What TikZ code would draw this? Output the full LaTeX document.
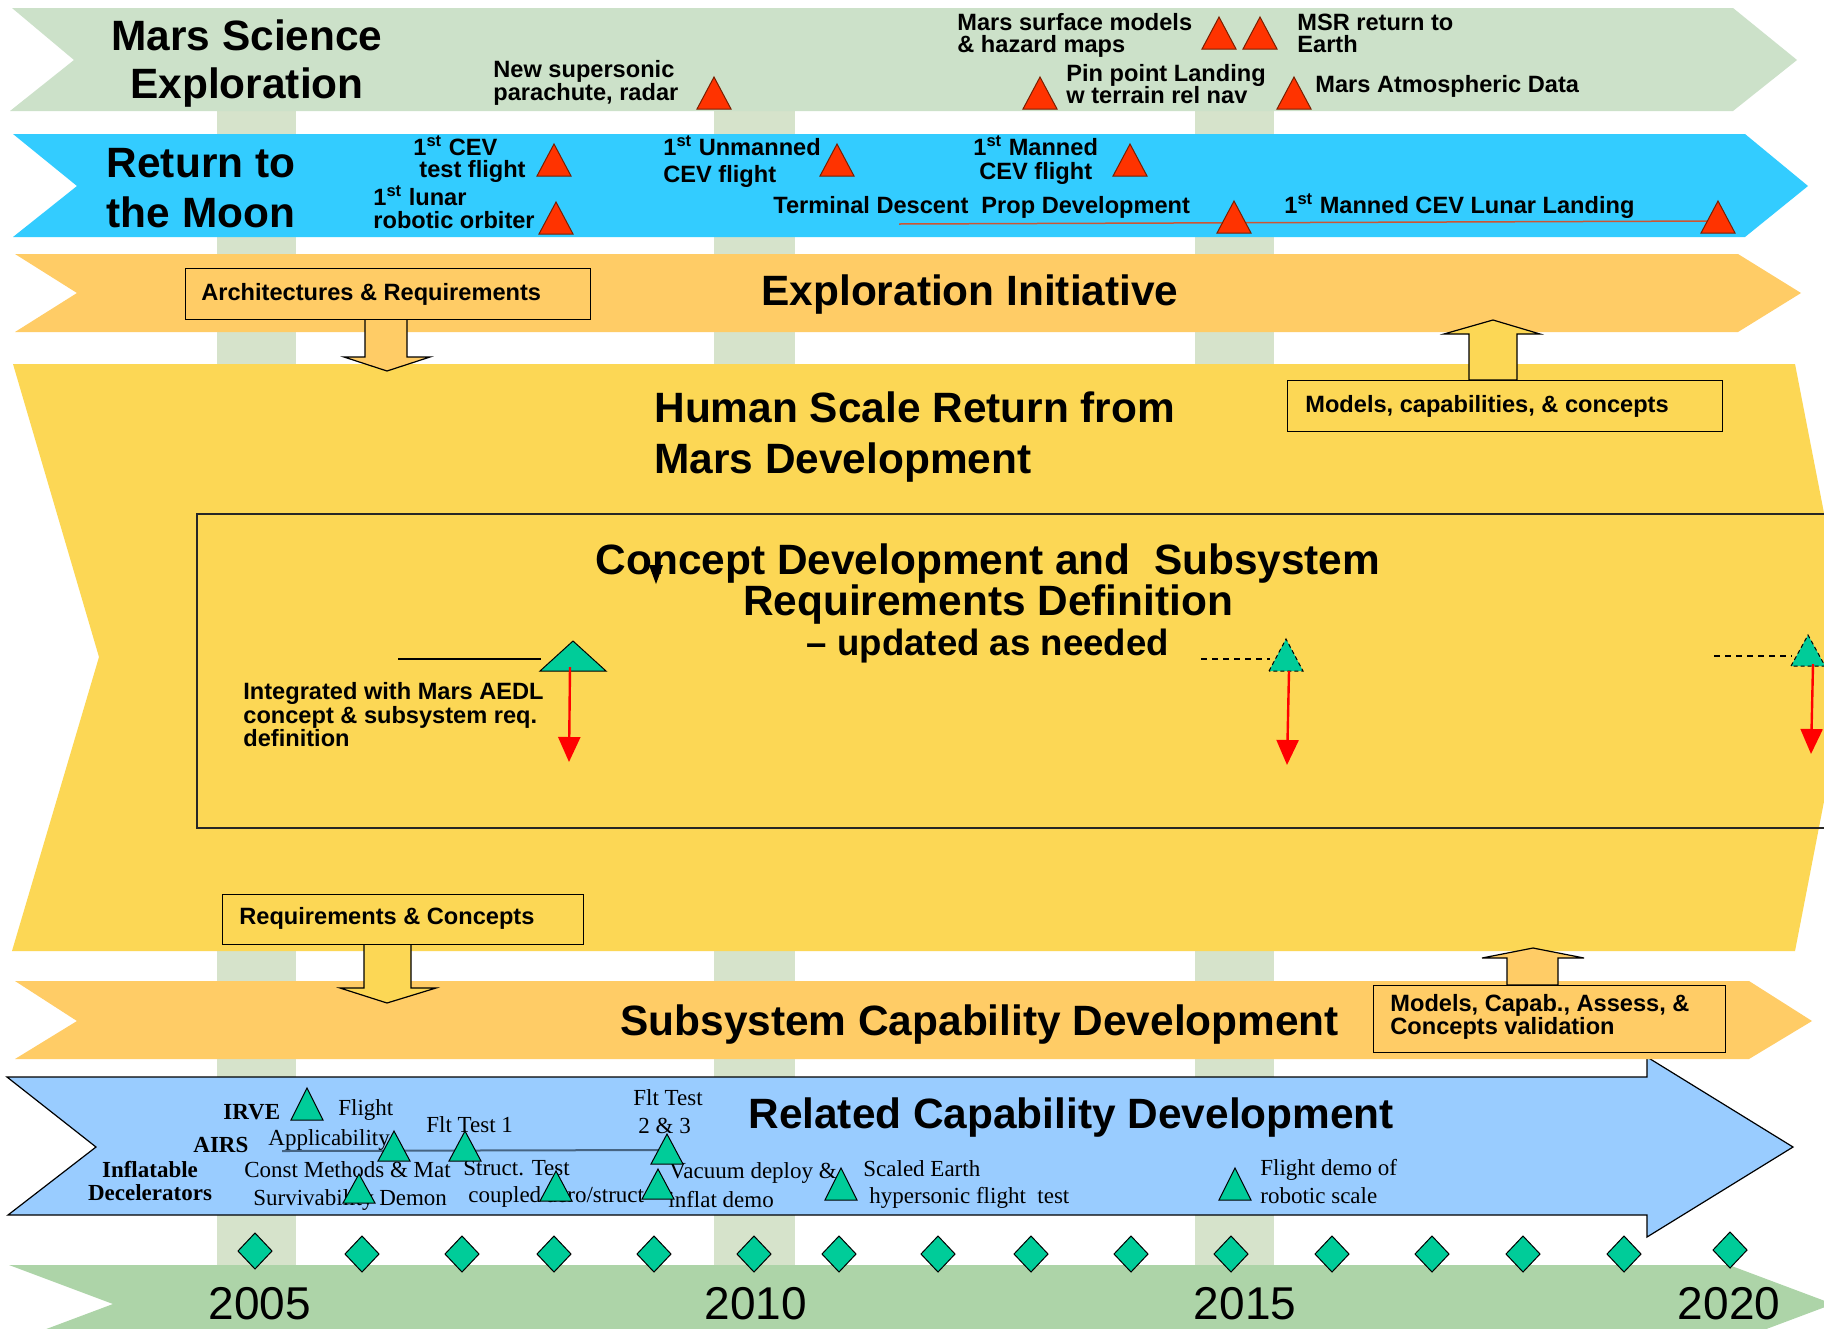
\documentclass[tikz,border=0pt]{standalone}
\usepackage{fontspec}
\setmainfont{Liberation Sans}
\newfontfamily\arialf{Liberation Sans}
\newfontfamily\tmsf{Liberation Serif}
\usetikzlibrary{arrows.meta}
\definecolor{cmars}{RGB}{204,225,201}
\definecolor{ccol}{RGB}{214,227,203}
\definecolor{cmoon}{RGB}{51,204,255}
\definecolor{corange}{RGB}{255,204,102}
\definecolor{cyellow}{RGB}{252,215,85}
\definecolor{cblue}{RGB}{153,204,255}
\definecolor{ctime}{RGB}{173,212,168}
\definecolor{cred}{RGB}{255,51,0}
\definecolor{credline}{RGB}{120,30,0}
\definecolor{cgreen}{RGB}{0,204,153}
\definecolor{cslate}{RGB}{70,100,130}
\definecolor{ctdline}{RGB}{205,85,50}
\tikzset{
  lab/.style={font=\arialf\bfseries\fontsize{11.8pt}{12pt}\selectfont, inner sep=0pt, anchor=base west},
  big/.style={font=\arialf\bfseries\fontsize{21.2pt}{24pt}\selectfont, inner sep=0pt, anchor=base},
  mid/.style={font=\arialf\bfseries\fontsize{18.3pt}{20pt}\selectfont, inner sep=0pt, anchor=base},
  srf/.style={font=\tmsf\fontsize{11.5pt}{12pt}\selectfont, inner sep=0pt, anchor=base west},
  srfb/.style={font=\tmsf\bfseries\fontsize{11.5pt}{12pt}\selectfont, inner sep=0pt, anchor=base west},
  yr/.style={font=\arialf\fontsize{23pt}{24pt}\selectfont, inner sep=0pt, anchor=base},
  redtri/.style={fill=cred, draw=credline, line width=0.5pt},
  greentri/.style={fill=cgreen, draw=black, line width=0.5pt},
  dmdst/.style={fill=cgreen, draw=black, line width=0.5pt},
  blk/.style={draw=black, line width=0.6pt},
  boxst/.style={draw=black, line width=0.7pt},
  redarrow/.style={draw=red, line width=1.2pt, -{Triangle[length=12.5pt,width=11pt]}},
}
\newcommand\rtri[2]{\filldraw[redtri] ({#1-17},#2) -- (#1,{#2-32}) -- ({#1+17},#2) -- cycle;}
\newcommand\gtri[5][]{\filldraw[greentri,#1] ({#2-#4},#3) -- (#2,{#3-#5}) -- ({#2+#4},#3) -- cycle;}
\newcommand\dmd[2]{\filldraw[dmdst] (#1,{#2-18}) -- ({#1+17},#2) -- (#1,{#2+18}) -- ({#1-17},#2) -- cycle;}
\begin{document}
\begin{tikzpicture}[x=0.5pt,y=-0.5pt]
\useasboundingbox (0,0) rectangle (1824,1328);
\clip (0,0) rectangle (1824,1328);
\fill[white] (0,0) rectangle (1824,1328);
% year columns
\fill[ccol] (217,8) rectangle (296,1265);
\fill[ccol] (714,8) rectangle (795,1265);
\fill[ccol] (1195,8) rectangle (1274,1265);
% bands
\fill[cmars] (12,8) -- (1733,8) -- (1797,60) -- (1733,111) -- (10,111) -- (74,60) -- cycle;
\fill[cmoon] (13,134) -- (1745,134) -- (1808,186) -- (1745,237) -- (13,237) -- (77,186) -- cycle;
\fill[corange] (15,254) -- (1738,254) -- (1801,293) -- (1738,332) -- (15,332) -- (77,293) -- cycle;
\fill[cyellow] (13,364) -- (1795,364) -- (1852,657) -- (1795,951) -- (12,951) -- (99,657) -- cycle;
\filldraw[cblue, draw=black, line width=0.6pt] (7,1077) -- (1647,1077) -- (1647,1057) -- (1793,1147) -- (1647,1237) -- (1647,1215) -- (8,1215) -- (96,1147) -- cycle;
\fill[corange] (15,981) -- (1749,981) -- (1812,1021) -- (1749,1059) -- (15,1059) -- (77,1021) -- cycle;
\fill[ctime] (9,1265) -- (1729,1265) -- (1833,1304) -- (1729,1343) -- (9,1343) -- (113,1304) -- cycle;
% inner concept box
\draw[black!85, line width=0.8pt] (1830,514) -- (197,514) -- (197,828) -- (1830,828);
% block arrows
\filldraw[blk, fill=corange] (365,319) -- (365,357) -- (344,357) -- (387,371) -- (430,357) -- (407,357) -- (407,319) -- cycle;
\filldraw[blk, fill=cyellow] (1469,380) -- (1469,334) -- (1444,334) -- (1493,320) -- (1540,334) -- (1517,334) -- (1517,380) -- cycle;
\filldraw[blk, fill=cyellow] (364,944) -- (364,988) -- (340,988) -- (387,1003) -- (436,988) -- (411,988) -- (411,944) -- cycle;
\filldraw[blk, fill=corange] (1507,985) -- (1507,958) -- (1482,958) -- (1533,948) -- (1584,958) -- (1558,958) -- (1558,985) -- cycle;
% boxes
\node[boxst, fill=corange, minimum width=202.5pt, minimum height=25.5pt, anchor=north west, inner sep=0pt] (bArch) at (185,268) {};
\node[boxst, fill=cyellow, minimum width=217.5pt, minimum height=25.5pt, anchor=north west, inner sep=0pt] (bModels) at (1287,380) {};
\node[boxst, fill=cyellow, minimum width=180.5pt, minimum height=25pt, anchor=north west, inner sep=0pt] (bReq) at (222,894) {};
\node[boxst, fill=corange, minimum width=176pt, minimum height=33.5pt, anchor=north west, inner sep=0pt] (bCapab) at (1373,985) {};
% lines
\coordinate (tdA) at (899,224); \coordinate (tdB) at (1718,221);
\draw[ctdline, line width=0.75pt] (tdA) -- (tdB);
\coordinate (slA) at (282,1151); \coordinate (slB) at (663,1150);
\draw[cslate, line width=1pt] (slA) -- (slB);
\coordinate (ilA) at (398,659); \coordinate (ilB) at (541,659);
\draw[black, line width=0.6pt] (ilA) -- (ilB);
\coordinate (dlA) at (1201,659); \coordinate (dlB) at (1270,659);
\draw[black, line width=0.6pt, dash pattern=on 3pt off 2.5pt] (dlA) -- (dlB);
\coordinate (dlC) at (1714,656); \coordinate (dlD) at (1792,656);
\draw[black, line width=0.6pt, dash pattern=on 3pt off 2.5pt] (dlC) -- (dlD);
% small black arrowhead
\fill[black] (649,565) -- (663,565) -- (656,584) -- cycle;
% big texts
\node[big] (tMars1) at (247,50) {Mars Science};
\node[big] (tMars2) at (247,98) {Exploration};
\node[big] (tMoon1) at (201,177) {Return to};
\node[big] (tMoon2) at (201,227) {the Moon};
\node[big] (tExp) at (970,305) {Exploration Initiative};
\node[big, anchor=base west] (tHum1) at (654,422) {Human Scale Return from};
\node[big, anchor=base west] (tHum2) at (654,473) {Mars Development};
\node[big] (tCon1) at (988,574) {Concept Development and\ \ Subsystem};
\node[big] (tCon2) at (988,615) {Requirements Definition};
\node[mid] (tCon3) at (988,655) {– updated as needed};
\node[big, anchor=base west] (tSub) at (620,1035) {Subsystem Capability Development};
\node[big, anchor=base west] (tRel) at (748,1128) {Related Capability Development};
% small labels top
\node[lab] (lPar1) at (493,77) {New supersonic};
\node[lab] (lPar2) at (493,100) {parachute, radar};
\node[lab] (lSur1) at (957,30) {Mars surface models};
\node[lab] (lSur2) at (957,52) {\& hazard maps};
\node[lab] (lMsr1) at (1297,30) {MSR return to};
\node[lab] (lMsr2) at (1297,52) {Earth};
\node[lab] (lPin1) at (1066,81) {Pin point Landing};
\node[lab] (lPin2) at (1066,103) {w terrain rel nav};
\node[lab] (lAtm) at (1315,92) {Mars Atmospheric Data};
\node[lab] (lCev1) at (413,155) {1\textsuperscript{st} CEV};
\node[lab] (lCev2) at (419,177) {test flight};
\node[lab] (lLun1) at (373,205) {1\textsuperscript{st} lunar};
\node[lab] (lLun2) at (373,228) {robotic orbiter};
\node[lab] (lUnm1) at (663,155) {1\textsuperscript{st} Unmanned};
\node[lab] (lUnm2) at (663,182) {CEV flight};
\node[lab] (lMan1) at (973,155) {1\textsuperscript{st} Manned};
\node[lab] (lMan2) at (979,179) {CEV flight};
\node[lab] (lTdp) at (773,213) {Terminal Descent\ \ Prop Development};
\node[lab] (lLl) at (1284,213) {1\textsuperscript{st} Manned CEV Lunar Landing};
\node[lab] (lArch) at (201,300) {Architectures \& Requirements};
\node[lab] (lMod) at (1305,412) {Models, capabilities, \& concepts};
\node[lab] (lInt1) at (243,699) {Integrated with Mars AEDL};
\node[lab] (lInt2) at (243,723) {concept \& subsystem req.};
\node[lab] (lInt3) at (243,746) {definition};
\node[lab] (lReq) at (239,924) {Requirements \& Concepts};
\node[lab] (lCap1) at (1390,1011) {Models, Capab., Assess, \&};
\node[lab] (lCap2) at (1390,1034) {Concepts validation};
% serif labels
\node[srfb] (sIrve) at (223,1119) {IRVE};
\node[srf] (sFl) at (338,1115) {Flight};
\node[srf] (sApp) at (268,1145) {Applicability};
\node[srfb] (sAirs) at (193,1152) {AIRS};
\node[srf] (sFt1) at (426,1132) {Flt Test 1};
\node[srf] (sFt2) at (633,1105) {Flt Test};
\node[srf] (sFt3) at (638,1133) {2 \& 3};
\node[srf] (sCon) at (244,1177) {Const Methods \& Mat};
\node[srf] (sSur) at (253,1205) {Survivability Demon};
\node[srf] (sStr) at (463,1175) {Struct. Test};
\node[srf] (sCou) at (468,1202) {coupled aero/struct};
\node[srf] (sVac) at (669,1178) {Vacuum deploy \&};
\node[srf] (sInf) at (668,1207) {inflat demo};
\node[srf] (sSc1) at (863,1176) {Scaled Earth};
\node[srf] (sSc2) at (869,1203) {hypersonic flight\ \ test};
\node[srf] (sFd1) at (1260,1175) {Flight demo of};
\node[srf] (sFd2) at (1260,1203) {robotic scale};
\node[srfb, anchor=base] (sId1) at (150,1177) {Inflatable};
\node[srfb, anchor=base] (sId2) at (150,1200) {Decelerators};
% red triangles
\rtri{714}{109}
\rtri{1219}{49}
\rtri{1260}{49}
\rtri{1040}{109}
\rtri{1294}{109}
\rtri{554}{176}
\rtri{556}{234}
\rtri{837}{176}
\rtri{1130}{176}
\rtri{1234}{233}
\rtri{1718}{233}
% green triangles (concept box)
\gtri{573}{671}{33}{30}
\gtri[dash pattern=on 2pt off 1.5pt]{1286}{671}{17}{32}
\gtri[dash pattern=on 2pt off 1.5pt]{1808}{666}{17}{31}
% red arrows
\coordinate (ra1s) at (570,667); \coordinate (ra1e) at (569,762);
\coordinate (ra2s) at (1289,671); \coordinate (ra2e) at (1287,765);
\coordinate (ra3s) at (1813,664); \coordinate (ra3e) at (1811,754);
\draw[redarrow] (ra1s) -- (ra1e);
\draw[redarrow] (ra2s) -- (ra2e);
\draw[redarrow] (ra3s) -- (ra3e);
% green triangles (related band)
\gtri{307}{1120}{16}{32}
\gtri{394}{1161}{16}{30}
\gtri{465}{1161}{16}{30}
\gtri{667}{1164}{16}{30}
\gtri{359}{1203}{16}{29}
\gtri{556}{1201}{16}{30}
\gtri{658}{1199}{16}{30}
\gtri{841}{1200}{16}{32}
\gtri{1235}{1200}{16}{32}
% diamonds
\dmd{255}{1251}
\dmd{362}{1254}
\dmd{462}{1254}
\dmd{554}{1254}
\dmd{654}{1254}
\dmd{754}{1254}
\dmd{839}{1254}
\dmd{938}{1254}
\dmd{1031}{1254}
\dmd{1131}{1254}
\dmd{1231}{1254}
\dmd{1332}{1254}
\dmd{1432}{1254}
\dmd{1523}{1254}
\dmd{1624}{1254}
\dmd{1730}{1250}
% years
\node[yr] (y2005) at (260,1319) {2005};
\node[yr] (y2010) at (756,1319) {2010};
\node[yr] (y2015) at (1245,1319) {2015};
\node[yr] (y2020) at (1729,1319) {2020};
\end{tikzpicture}
\end{document}
